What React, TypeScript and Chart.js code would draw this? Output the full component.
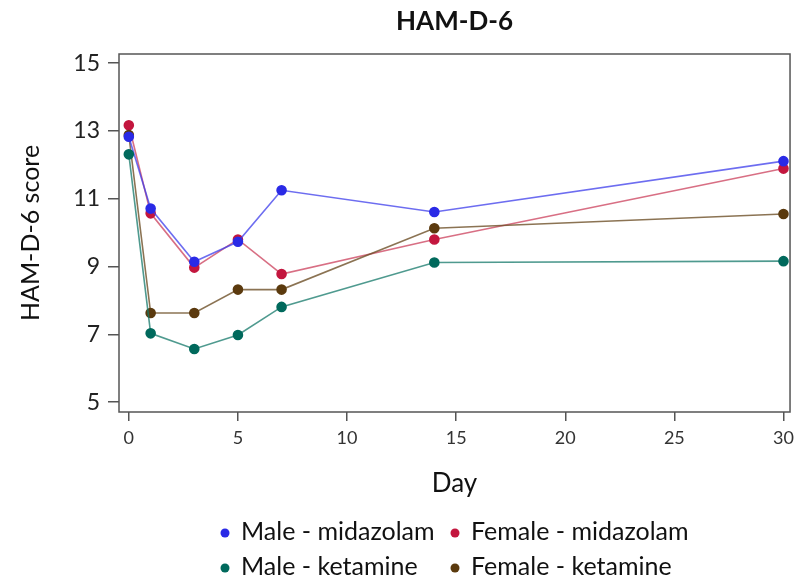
import React, { useEffect, useRef } from "react";
import { Chart, registerables } from "chart.js";

Chart.register(...registerables);

const days = [0, 1, 3, 5, 7, 14, 30];
const maleMidazolam = [12.83, 10.71, 9.14, 9.73, 11.25, 10.61, 12.11];
const femaleMidazolam = [13.17, 10.57, 8.97, 9.8, 8.78, 9.8, 11.89];
const maleKetamine = [12.31, 7.03, 6.57, 6.98, 7.81, 9.12, 9.16];
const femaleKetamine = [12.88, 7.63, 7.63, 8.32, 8.32, 10.13, 10.55];
const xTicks = [0, 5, 10, 15, 20, 25, 30];
const yTicks = [5, 7, 9, 11, 13, 15];
const seriesNames = ["Male - midazolam", "Female - midazolam", "Male - ketamine", "Female - ketamine"];
const chartTitle = "HAM-D-6";
const xTitle = "Day";
const yTitle = "HAM-D-6 score";

const pointColors = ["#2a2ae6", "#c3163e", "#00695c", "#5b3a0e"];
const lineColors = ["rgba(60,60,235,0.75)", "rgba(200,50,80,0.7)", "rgba(20,120,105,0.75)", "rgba(110,80,40,0.8)"];
const FONT = "Lato, 'Open Sans', sans-serif";

const textPlugin = {
  id: "customText",
  afterDraw(chart: any) {
    const ctx = chart.ctx;
    const a = chart.chartArea;
    ctx.save();
    ctx.strokeStyle = "#555";
    ctx.lineWidth = 1.5;
    ctx.strokeRect(a.left, a.top, a.right - a.left, a.bottom - a.top);
    const cx = (a.left + a.right) / 2;
    const cy = (a.top + a.bottom) / 2;
    ctx.fillStyle = "#111";
    ctx.textAlign = "center";
    ctx.textBaseline = "middle";
    ctx.font = `bold 26px ${FONT}`;
    ctx.fillText(chartTitle, cx, 22);
    ctx.font = `26px ${FONT}`;
    ctx.fillText(xTitle, cx, 484);
    ctx.save();
    ctx.translate(31, cy);
    ctx.rotate(-Math.PI / 2);
    ctx.font = `25px ${FONT}`;
    ctx.fillText(yTitle, 0, 0);
    ctx.restore();
    const pos = [
      [225, 532],
      [455, 532],
      [225, 567],
      [455, 567],
    ];
    ctx.font = `25px ${FONT}`;
    ctx.textAlign = "left";
    seriesNames.forEach((n, i) => {
      const [x, y] = pos[i];
      ctx.fillStyle = pointColors[i];
      ctx.beginPath();
      ctx.arc(x, y + 1, 4.5, 0, Math.PI * 2);
      ctx.fill();
      ctx.fillStyle = "#111";
      ctx.fillText(n, x + 16, y);
    });
    ctx.restore();
  },
};

export default function App() {
  const ref = useRef<HTMLCanvasElement>(null);
  useEffect(() => {
    const series = [maleMidazolam, femaleMidazolam, maleKetamine, femaleKetamine];
    const order = [2, 0, 3, 1];
    const chart = new Chart(ref.current!, {
      type: "line",
      data: {
        datasets: order.map((i) => ({
          label: seriesNames[i],
          data: days.map((d, k) => ({ x: d, y: series[i][k] })),
          borderColor: lineColors[i],
          backgroundColor: pointColors[i],
          pointBackgroundColor: pointColors[i],
          pointBorderColor: pointColors[i],
          borderWidth: 1.6,
          pointRadius: 4.5,
          tension: 0,
        })),
      },
      options: {
        animation: false,
        responsive: false,
        layout: { padding: { top: 54, left: 0, right: 8, bottom: 0 } },
        plugins: { legend: { display: false }, title: { display: false }, tooltip: { enabled: false } },
        scales: {
          x: {
            type: "linear",
            min: -0.45,
            max: 30.3,
            afterBuildTicks: (s: any) => {
              s.ticks = xTicks.map((v) => ({ value: v }));
            },
            afterFit: (s: any) => {
              s.height = 173;
            },
            border: { display: false },
            grid: { drawOnChartArea: false, drawTicks: true, tickLength: 9, color: "#555", lineWidth: 1.5 },
            ticks: { padding: 6, color: "#333", font: { family: FONT, size: 18 }, maxRotation: 0 },
          },
          y: {
            type: "linear",
            min: 4.71,
            max: 15.27,
            afterBuildTicks: (s: any) => {
              s.ticks = yTicks.map((v) => ({ value: v }));
            },
            afterFit: (s: any) => {
              s.width = 119;
            },
            border: { display: false },
            grid: { drawOnChartArea: false, drawTicks: true, tickLength: 11, color: "#555", lineWidth: 1.5 },
            ticks: { padding: 8, color: "#222", font: { family: FONT, size: 23 } },
          },
        },
      },
      plugins: [textPlugin],
    });
    return () => chart.destroy();
  }, []);
  return (
    <div style={{ position: "absolute", left: 0, top: 0, width: 800, height: 585, background: "#fff" }}>
      <canvas ref={ref} width={800} height={585} style={{ width: 800, height: 585, display: "block" }} />
    </div>
  );
}
